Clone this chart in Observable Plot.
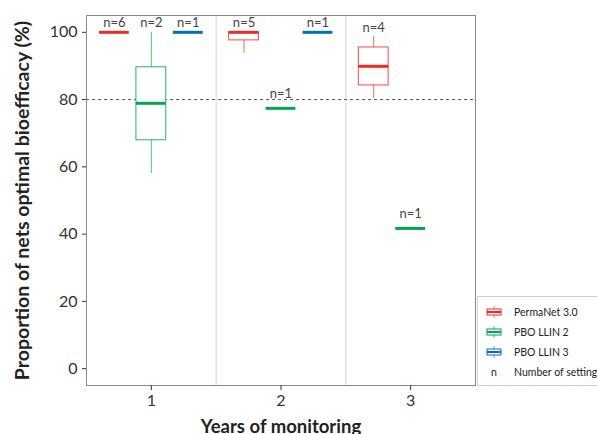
<!DOCTYPE html>
<html>
<head>
<meta charset="utf-8">
<script src="https://cdn.jsdelivr.net/npm/d3@7"></script>
<script src="https://cdn.jsdelivr.net/npm/@observablehq/plot@0.6"></script>
<style>
  body { margin: 0; background: #fff; font-family: Lato, "Noto Sans", sans-serif; }
  #wrap { position: relative; width: 597px; height: 434px; overflow: hidden; }
  #legend { position: absolute; left: 477px; top: 296px; width: 140px; height: 88px; border: 1px solid #d0d0d0; background: #fff; font-size: 10.5px; color: #222; white-space: nowrap; }
  .row { position: absolute; left: 8px; display: flex; align-items: center; height: 14px; }
  .row svg { margin-right: 12px; }
  g[aria-label="y-axis label"] text { font-weight: bold; font-size: 19.5px; fill: #222; }
  g[aria-label="x-axis label"] text { font-weight: bold; font-size: 18.5px; fill: #222; }
</style>
</head>
<body>
<div id="wrap"><div id="chart"></div><div id="legend"></div></div>
<script>
// ---- data ----
const seriesNames = ["PermaNet 3.0", "PBO LLIN 2", "PBO LLIN 3"];
const seriesColors = ["#ee2a24", "#00a650", "#0070bb"];
const yearTicks = [1, 2, 3];
const yTicks = [0, 20, 40, 60, 80, 100];
const threshold = [80];

const boxYear   = [1, 1, 1, 2, 2, 2, 3, 3];
const boxSeries = ["PermaNet 3.0", "PBO LLIN 2", "PBO LLIN 3", "PermaNet 3.0", "PBO LLIN 2", "PBO LLIN 3", "PermaNet 3.0", "PBO LLIN 2"];
const whiskerLow  = [100, 58.0, 100, 93.8, 77.4, 100, 80.4, 41.7];
const quart1      = [100, 67.9, 100, 97.6, 77.4, 100, 84.2, 41.7];
const medianVal   = [100, 78.9, 100, 100, 77.4, 100, 89.9, 41.7];
const quart3      = [100, 89.6, 100, 100, 77.4, 100, 95.5, 41.7];
const whiskerHigh = [100, 100, 100, 100, 77.4, 100, 98.8, 41.7];
const nSettings   = [6, 2, 1, 5, 1, 1, 4, 1];

// ---- build table ----
const dodge = {"PermaNet 3.0": -0.285, "PBO LLIN 2": 0, "PBO LLIN 3": 0.285};
const halfW = 0.115;
const rows = boxYear.map((yr, i) => {
  const xc = yr + dodge[boxSeries[i]];
  return {year: yr, series: boxSeries[i], xc, x1: xc - halfW, x2: xc + halfW,
    lo: whiskerLow[i], q1: quart1[i], med: medianVal[i], q3: quart3[i], hi: whiskerHigh[i], n: nSettings[i]};
});
const color = d => seriesColors[seriesNames.indexOf(d.series)];
const lowSingle = d => d.lo === d.hi && d.hi < 95;

const chart = Plot.plot({
  width: 597,
  height: 434,
  marginLeft: 86,
  marginRight: 122,
  marginTop: 15,
  marginBottom: 49,
  style: {fontFamily: "Lato, 'Noto Sans', sans-serif", fontSize: "16px", color: "#333", background: "#fff"},
  x: {domain: [0.5, 3.5]},
  y: {domain: [-5, 105]},
  marks: [
    Plot.ruleX([1.5, 2.5], {stroke: "#d6d6d6"}),
    Plot.ruleY(threshold, {stroke: "#555", strokeDasharray: "3,3"}),
    Plot.ruleX(rows.filter(d => d.hi > d.lo), {x: "xc", y1: "lo", y2: "hi", stroke: color, strokeOpacity: 0.7}),
    Plot.rect(rows.filter(d => d.q3 > d.q1), {x1: "x1", x2: "x2", y1: "q1", y2: "q3", fill: "white", stroke: color, strokeOpacity: 0.85}),
    Plot.ruleY(rows, {y: "med", x1: "x1", x2: "x2", stroke: color, strokeWidth: 3}),
    Plot.text(rows.filter(d => !lowSingle(d)), {x: "xc", y: "hi", text: d => "n=" + d.n, dy: -9, fontSize: 13, fill: "#444"}),
    Plot.text(rows.filter(lowSingle), {x: "xc", y: "hi", text: d => "n=" + d.n, dy: -15, fontSize: 13, fill: "#444"}),
    Plot.frame({stroke: "#888"}),
    Plot.axisY({ticks: yTicks, tickSize: 4, label: "Proportion of nets optimal bioefficacy (%)", labelAnchor: "center", labelOffset: 71, labelArrow: false, fontSize: 16}),
    Plot.axisX({ticks: yearTicks, tickSize: 5, tickFormat: d => String(d), label: "Years of monitoring", labelAnchor: "center", labelOffset: 47, labelArrow: false, fontSize: 16})
  ]
});
document.getElementById("chart").appendChild(chart);

// ---- legend ----
const legend = document.getElementById("legend");
seriesNames.forEach((name, i) => {
  const c = seriesColors[i];
  const r = document.createElement("div");
  r.className = "row";
  r.style.top = (8 + i * 20) + "px";
  r.innerHTML = `<svg width="16" height="12"><line x1="8" y1="0" x2="8" y2="12" stroke="${c}" stroke-opacity="0.7"/><rect x="1" y="3" width="14" height="6" fill="white" stroke="${c}"/><line x1="1" y1="6" x2="15" y2="6" stroke="${c}" stroke-width="2"/></svg><span>${name}</span>`;
  legend.appendChild(r);
});
const nr = document.createElement("div");
nr.className = "row";
nr.style.top = (8 + 3 * 20) + "px";
nr.innerHTML = `<span style="display:inline-block;width:16px;text-align:center;margin-right:12px">n</span><span>Number of settings</span>`;
legend.appendChild(nr);
</script>
</body>
</html>
